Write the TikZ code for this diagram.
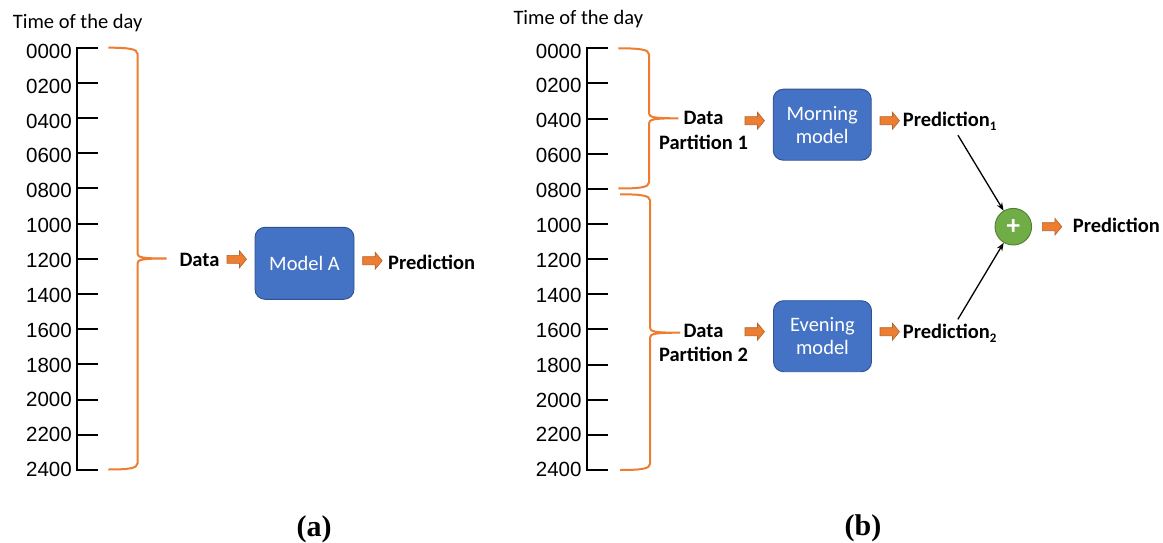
\documentclass[tikz,border=0pt]{standalone}
\usepackage{fontspec}
\setmainfont{Carlito}
\newfontfamily\digitfont{Liberation Sans}
\newfontfamily\capfont{Liberation Serif}
\usetikzlibrary{arrows.meta}
\definecolor{orng}{HTML}{ED7D31}
\definecolor{orngdk}{HTML}{B3622A}
\definecolor{blu}{HTML}{4472C4}
\definecolor{bludk}{HTML}{2F528F}
\definecolor{grn}{HTML}{70AD47}
\definecolor{grndk}{HTML}{507E32}
\tikzset{
  ttl/.style={font=\fontsize{20.5}{24}\selectfont, inner sep=0},
  digit/.style={font=\digitfont\fontsize{20.5}{24}\selectfont, inner sep=0, anchor=east},
  bl/.style={font=\bfseries\fontsize{20.5}{24.3}\selectfont, inner sep=0},
  model/.style={draw=bludk, line width=0.9pt, fill=blu, rounded corners=10pt, text=white,
    minimum width=98pt, minimum height=71pt, inner sep=0, align=center,
    font=\fontsize{20.5}{23.3}\selectfont},
  axisline/.style={line width=2pt, black},
  bracel/.style={line width=2pt, orng},
  conn/.style={line width=1.3pt, -{Stealth[length=8pt,width=6pt]}, shorten <=5pt},
  capt/.style={font=\capfont\bfseries\fontsize{30}{32}\selectfont, inner sep=0},
  barrow/.pic={\draw[orngdk, fill=orng, line width=0.6pt]
     (0,-4) -- (12.5,-4) -- (12.5,-8.5) -- (19.5,0) -- (12.5,8.5) -- (12.5,4) -- (0,4) -- cycle;}
}
\newcommand\obrace[6]{%
  \draw[bracel] (#1,#2) .. controls ({#3-10},{#2}) and ({#3},{#2+1}) .. ({#3},{#2+6})
    -- ({#3},{#4-5}) .. controls ({#3},{#4-1}) and ({#3+5},{#4}) .. ({#5},{#4})
    .. controls ({#3+5},{#4}) and ({#3},{#4+1}) .. ({#3},{#4+5})
    -- ({#3},{#6-6}) .. controls ({#3},{#6-1}) and ({#3-10},{#6}) .. (#1,#6);}
\begin{document}
\begin{tikzpicture}[x=1pt,y=-1pt]
\useasboundingbox (0,0) rectangle (1163,543);
% ---------------- panel (a)
\node[ttl, anchor=base west] (tl) at (12.7,28.3) {Time of the day};
\draw[axisline] (77.3,47.7) -- (77.3,470);
\foreach \i/\t in {0/0000,1/0200,2/0400,3/0600,4/0800,5/1000,6/1200,7/1400,8/1600,9/1800,10/2000,11/2200,12/2400}{
  \draw[axisline] (76.3,{47.7+\i*35.19}) -- (98,{47.7+\i*35.19});
  \node[digit] (la\i) at (72,{51.3+\i*34.85}) {\t};
}
\obrace{108.3}{47.7}{137.5}{258.5}{166.7}{469.5}
\node[bl, anchor=base west] (dA) at (179.3,266) {Data};
\pic at (227,259.3) {barrow};
\node[model, minimum width=99pt, minimum height=72pt] (mA) at (304.5,263.3) {Model A};
\pic at (362.7,260.7) {barrow};
\node[bl, anchor=base west] (pA) at (388,269) {Prediction};
\node[capt] (ca) at (314,529) {(a)};
% ---------------- panel (b)
\node[ttl, anchor=base west] (tr) at (513.3,25) {Time of the day};
\draw[axisline] (587.3,48.3) -- (587.3,470);
\foreach \i/\t in {0/0000,1/0200,2/0400,3/0600,4/0800,5/1000,6/1200,7/1400,8/1600,9/1800,10/2000,11/2200,12/2400}{
  \draw[axisline] (586.3,{48.3+\i*35.14}) -- (608,{48.3+\i*35.14});
  \node[digit] (lb\i) at (581.7,{51+\i*34.9}) {\t};
}
\obrace{618.3}{48.3}{649}{118.3}{678.3}{188.5}
\obrace{620}{194.3}{650}{332.7}{680}{470}
\node[bl, align=center] (d1) at (703.5,130.5) {Data\\Partition 1};
\node[bl, align=center] (d2) at (703.5,342.7) {Data\\Partition 2};
\pic at (745,120.7) {barrow};
\pic at (745,331.7) {barrow};
\node[model] (mm) at (822.2,124.7) {Morning\\model};
\node[model] (me) at (822.5,336.2) {Evening\\model};
\pic at (880,120.7) {barrow};
\pic at (880,331.7) {barrow};
\node[bl, anchor=base west] (p1) at (902.7,126.7) {Prediction\raisebox{-4pt}{\fontsize{13}{13}\selectfont 1}};
\node[bl, anchor=base west] (p2) at (902.7,338.3) {Prediction\raisebox{-4pt}{\fontsize{13}{13}\selectfont 2}};
\node[circle, fill=grn, draw=grndk, line width=0.9pt, minimum size=36.6pt, inner sep=0,
  text=white, font=\bfseries\fontsize{27}{27}\selectfont] (plus) at (1013.3,226.7) {+};
\draw[conn] (p1) -- (plus);
\draw[conn] (p2) -- (plus);
\pic at (1042.3,226.7) {barrow};
\node[bl, anchor=base west] (pf) at (1072.7,232.7) {Prediction};
\node[capt] (cb) at (863,528) {(b)};
\end{tikzpicture}
\end{document}
